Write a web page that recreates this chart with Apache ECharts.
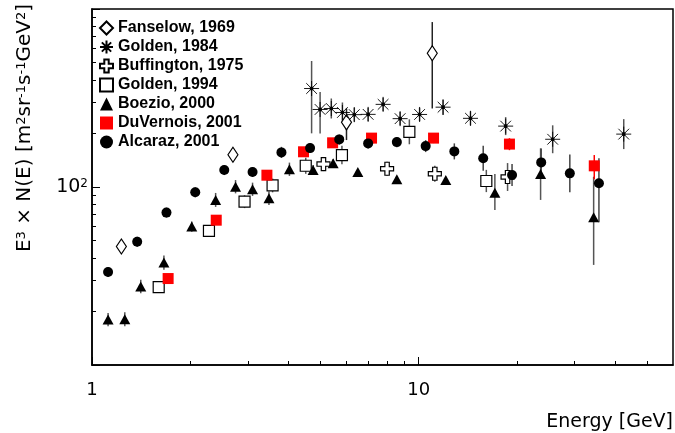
<!DOCTYPE html>
<html><head><meta charset="utf-8">
<script src="https://cdn.jsdelivr.net/npm/echarts@6/dist/echarts.min.js"></script>
<style>html,body{margin:0;padding:0;background:#fff}#c{width:675px;height:433px}</style>
</head><body><div id="c"></div>
<script>
// ---- tick values ----
const xMinorTicks = [2,3,4,5,6,7,8,9,20,30,40,50];
const yMinorTicks = [20,30,40,50,60,70,80,90,200,300,400,500,600,700,800,900];
const yLabelValues = [100];

// ---- Fanselow, 1969 ----
const fanselowE  = [1.23, 2.70, 6.01, 11.0];
const fanselowV  = [46.3, 151.6, 230.8, 563.8];
const fanselowLo = [46.3, 151.6, 183.5, 276.2];
const fanselowHi = [46.3, 151.6, 276.3, 844.6];

// ---- Golden, 1984 ----
const golden84E  = [4.70, 4.99, 5.40, 5.84, 6.35, 7.00, 7.78, 8.77, 10.06, 11.87, 14.4, 18.45, 25.7, 42.4];
const golden84V  = [357.5, 272.6, 276.1, 262.2, 254.9, 255.9, 291.2, 242.1, 255.6, 280.8, 243.1, 219.8, 185.4, 198.2];
const golden84Lo = [200.2, 200, 242.6, 230.4, 232.8, 234.8, 267.2, 222.1, 234.5, 253.9, 222, 195.7, 154.8, 163.3];
const golden84Hi = [510.5, 342.1, 314.2, 298.4, 279.1, 278.9, 317.4, 263.9, 278.6, 310.6, 266.2, 246.8, 222.1, 240.6];

// ---- Buffington, 1975 ----
const buffE  = [5.11, 8.00, 11.2, 18.7];
const buffV  = [134.6, 126.6, 118.7, 113.8];
const buffLo = [122.9, 115.6, 107, 95];
const buffHi = [147.4, 138.6, 131.6, 136.3];

// ---- Golden, 1994 ----
const golden94E  = [1.60, 2.28, 2.93, 3.57, 4.51, 5.82, 9.36, 16.1];
const golden94V  = [27.4, 56.7, 82.7, 102, 131.6, 151.2, 204.2, 108.1];
const golden94Lo = [26, 53.2, 76.1, 93.3, 118.6, 134.2, 173.8, 93.6];
const golden94Hi = [28.8, 60.5, 89.9, 111.5, 146, 170.4, 240, 124.8];

// ---- Boezio, 2000 ----
const boezioE  = [1.12, 1.26, 1.41, 1.66, 2.02, 2.39, 2.75, 3.10, 3.48, 4.02, 4.75, 5.47, 6.51, 8.57, 12.1, 17.1, 23.6, 34.3];
const boezioV  = [18.0, 18.1, 27.6, 37.6, 59.9, 84.6, 100.4, 97.1, 86.4, 125.8, 124.5, 135.8, 121.4, 110.4, 109.5, 92.9, 118.3, 67.6];
const boezioLo = [16.5, 16.5, 25.3, 34.3, 56.1, 77.3, 92.1, 89.1, 79.3, 115.4, 116.7, 129, 116.7, 106, 105, 74.3, 84.6, 36.5];
const boezioHi = [19.6, 19.8, 30.1, 41.2, 63.9, 92.6, 109.4, 105.8, 94.2, 137.1, 132.8, 143, 126.3, 115, 114, 118.3, 164.8, 114.2];

// ---- DuVernois, 2001 ----
const duverE  = [1.71, 2.40, 3.43, 4.44, 5.45, 7.17, 11.1, 18.95, 34.45];
const duverV  = [30.6, 65.1, 116.5, 157.7, 177.1, 188.2, 188.2, 174.2, 131.5];
const duverLo = [29.4, 62.6, 112, 151.6, 170, 179, 176.5, 161, 110.5];
const duverHi = [31.8, 67.7, 121, 164, 184, 197.6, 200.7, 188, 151.2];

// ---- Alcaraz, 2001 ----
const alcarazE  = [1.12, 1.375, 1.69, 2.07, 2.54, 3.10, 3.80, 4.65, 5.71, 7.00, 8.57, 10.5, 12.85, 15.75, 19.3, 23.7, 29.0, 35.6];
const alcarazV  = [33.3, 49.3, 71.8, 93.4, 124.5, 121.4, 156.5, 165.4, 185.1, 175.8, 178.7, 169.7, 158.5, 144.9, 116.7, 137.5, 119.3, 104.9];
const alcarazLo = [31.2, 46.2, 67.3, 87.5, 116.7, 113.8, 145.7, 155, 173.5, 164.8, 167.5, 157.1, 142.9, 123.3, 101.2, 114.8, 93.3, 63.4];
const alcarazHi = [35.5, 52.6, 76.6, 99.7, 132.8, 129.5, 168.1, 176.5, 197.5, 187.6, 190.7, 183.3, 175.8, 170.3, 134.6, 164.7, 152.5, 144.9];

const legendNames = ['Fanselow, 1969','Golden, 1984','Buffington, 1975','Golden, 1994','Boezio, 2000','DuVernois, 2001','Alcaraz, 2001'];

const starPath = 'path://M0,-7L0,7M-7,0L7,0M-5,-5L5,5M-5,5L5,-5M-1.2,-1.2L1.2,-1.2L1.2,1.2L-1.2,1.2Z';
const crossPath = 'path://M-2.2,-6.5L2.2,-6.5L2.2,-2.2L6.5,-2.2L6.5,2.2L2.2,2.2L2.2,6.5L-2.2,6.5L-2.2,2.2L-6.5,2.2L-6.5,-2.2L-2.2,-2.2Z';

const defs = [
  {name: legendNames[0], E: fanselowE, V: fanselowV, Lo: fanselowLo, Hi: fanselowHi, symbol: 'diamond', size: [10, 15], style: {color: '#fff', borderColor: '#000', borderWidth: 1.2}, err: '#222'},
  {name: legendNames[1], E: golden84E, V: golden84V, Lo: golden84Lo, Hi: golden84Hi, symbol: starPath, size: 15, style: {color: '#000', borderColor: '#000', borderWidth: 0.9}, err: '#555'},
  {name: legendNames[2], E: buffE, V: buffV, Lo: buffLo, Hi: buffHi, symbol: crossPath, size: 13, style: {color: '#fff', borderColor: '#000', borderWidth: 1.2}, err: '#555'},
  {name: legendNames[3], E: golden94E, V: golden94V, Lo: golden94Lo, Hi: golden94Hi, symbol: 'rect', size: 11, style: {color: '#fff', borderColor: '#000', borderWidth: 1.2}, err: '#555'},
  {name: legendNames[4], E: boezioE, V: boezioV, Lo: boezioLo, Hi: boezioHi, symbol: 'triangle', size: [11, 10], style: {color: '#000'}, err: '#555'},
  {name: legendNames[5], E: duverE, V: duverV, Lo: duverLo, Hi: duverHi, symbol: 'rect', size: 11, style: {color: '#ff0000'}, err: '#ff0000'},
  {name: legendNames[6], E: alcarazE, V: alcarazV, Lo: alcarazLo, Hi: alcarazHi, symbol: 'circle', size: 10, style: {color: '#000'}, err: '#444'}
];

const series = [];
defs.forEach(function (d) {
  series.push({
    type: 'custom', name: d.name + ' (err)', silent: true, z: 2,
    xAxisIndex: 0, yAxisIndex: 0,
    data: d.E.map(function (e, i) { return [e, d.Lo[i], d.Hi[i]]; }),
    encode: {x: 0, y: [1, 2]},
    renderItem: function (params, api) {
      const a = api.coord([api.value(0), api.value(1)]);
      const b = api.coord([api.value(0), api.value(2)]);
      return {type: 'line', shape: {x1: a[0], y1: a[1], x2: b[0], y2: b[1]},
              style: {stroke: d.err, lineWidth: 1.5}};
    }
  });
});
defs.forEach(function (d) {
  series.push({
    type: 'scatter', name: d.name, z: 3,
    xAxisIndex: 0, yAxisIndex: 0,
    symbol: d.symbol, symbolSize: d.size,
    itemStyle: Object.assign({opacity: 1}, d.style),
    data: d.E.map(function (e, i) { return [e, d.V[i]]; })
  });
});

const axisFont = 'DejaVu Sans';
const option = {
  animation: false,
  backgroundColor: '#fff',
  grid: {left: 92, right: 2, top: 9, bottom: 68, show: true, borderColor: '#000', borderWidth: 1.5, outerBoundsMode: 'none'},
  legend: {
    orient: 'vertical', left: 94, top: 15, itemWidth: 13, itemHeight: 13, itemGap: 3,
    data: legendNames, selectedMode: false,
    textStyle: {fontFamily: 'Liberation Sans', fontWeight: 'bold', fontSize: 16, color: '#000', lineHeight: 16}
  },
  xAxis: [{
    type: 'log', logBase: 10, min: 1, max: 60,
    axisLine: {lineStyle: {color: '#000', width: 1.5}},
    axisTick: {inside: true, length: 8, lineStyle: {color: '#000', width: 1}},
    axisLabel: {margin: 16, fontFamily: axisFont, fontSize: 18, color: '#000', showMaxLabel: false},
    splitLine: {show: false},
    name: 'Energy [GeV]', nameLocation: 'end', nameGap: 0,
    nameTextStyle: {fontFamily: axisFont, fontSize: 19, color: '#000', align: 'right', verticalAlign: 'top', padding: [48, 0, 0, 0]}
  }, {
    type: 'log', logBase: 10, min: 1, max: 60, position: 'bottom', gridIndex: 0,
    axisLine: {show: false}, axisLabel: {show: false}, splitLine: {show: false},
    axisTick: {show: true, inside: true, length: 4, lineStyle: {color: '#000', width: 1}, customValues: xMinorTicks}
  }],
  yAxis: [{
    type: 'log', logBase: 10, min: 10, max: 1000,
    axisLine: {lineStyle: {color: '#000', width: 1.5}},
    axisTick: {inside: true, length: 8, lineStyle: {color: '#000', width: 1}},
    axisLabel: {
      margin: 4, fontFamily: axisFont, fontSize: 19, color: '#000',
      formatter: function (v) { return yLabelValues.indexOf(Math.round(v)) >= 0 ? '10{s|2}' : ''; },
      rich: {s: {fontFamily: axisFont, fontSize: 12, color: '#000', verticalAlign: 'top'}}
    },
    splitLine: {show: false}
  }, {
    type: 'log', logBase: 10, min: 10, max: 1000, position: 'left', gridIndex: 0,
    axisLine: {show: false}, axisLabel: {show: false}, splitLine: {show: false},
    axisTick: {show: true, inside: true, length: 4, lineStyle: {color: '#000', width: 1}, customValues: yMinorTicks}
  }],
  graphic: [{
    type: 'text', x: 25, y: 4, rotation: Math.PI / 2, silent: true,
    style: {
      text: 'E{s|3} × N(E) [m{s|2}sr{s|-1}s{s|-1}GeV{s|2}]',
      font: '20px "DejaVu Sans"', fill: '#000', align: 'right', verticalAlign: 'middle',
      rich: {s: {font: '13px "DejaVu Sans"', fill: '#000', verticalAlign: 'top'}}
    }
  }],
  series: series
};
const chart = echarts.init(document.getElementById('c'));
chart.setOption(option);
</script>
</body></html>
